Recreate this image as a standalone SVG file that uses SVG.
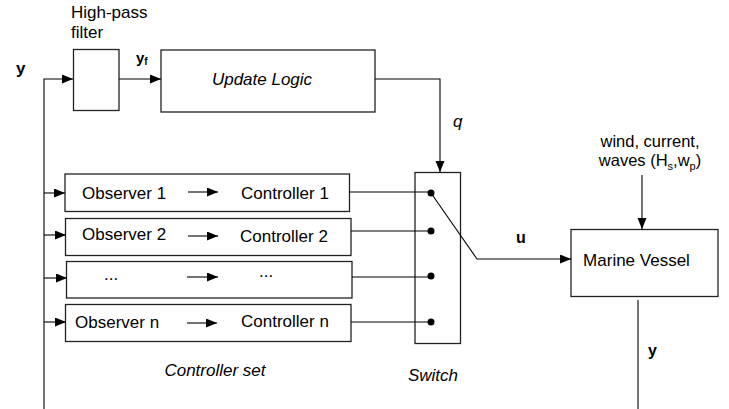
<svg xmlns="http://www.w3.org/2000/svg" width="729" height="409" viewBox="0 0 729 409">
<style>
text{font-family:"Liberation Sans",Arial,sans-serif;font-size:17px;fill:#000}
.it{font-style:italic}
.b{font-weight:bold}
.box{fill:#fff;stroke:#222;stroke-width:1.3}
.ln{fill:none;stroke:#000;stroke-width:1.1}
.arr{marker-end:url(#ah)}
</style>
<defs>
<marker id="ah" markerUnits="userSpaceOnUse" markerWidth="12" markerHeight="10" refX="11" refY="4.5" orient="auto">
<path d="M0,0 L11,4.5 L0,9 z" fill="#000"/>
</marker>
</defs>
<rect width="729" height="409" fill="#fff"/>

<g id="labels">
<text x="71" y="18">High-pass</text>
<text x="71" y="38">filter</text>
<text class="b" x="16" y="74" font-size="16">y</text>
<text class="b" x="136" y="63" style="font-size:15px">y<tspan style="font-size:10px" dy="2">f</tspan></text>
<text class="it" x="453" y="127">q</text>
<text class="b" x="516" y="243" style="font-size:16px">u</text>
<text class="b" x="648" y="356" style="font-size:16px">y</text>
<text x="650" y="147" text-anchor="middle" style="font-size:16.5px">wind, current,</text>
<text x="650" y="166" text-anchor="middle" style="font-size:16.5px">waves (H<tspan style="font-size:11px" dy="4">s</tspan><tspan dy="-4">,w</tspan><tspan style="font-size:11px" dy="4">p</tspan><tspan dy="-4">)</tspan></text>
<text class="it" x="215" y="376" text-anchor="middle">Controller set</text>
<text class="it" x="433" y="381" text-anchor="middle">Switch</text>
</g>

<g id="filter"><rect class="box" x="73.5" y="49.5" width="45.5" height="61"/></g>
<g id="update-logic">
<rect class="box" x="161" y="50" width="214" height="62"/>
<text class="it" x="262" y="85" text-anchor="middle">Update Logic</text>
</g>

<g id="row1">
<rect class="box" x="65" y="174" width="284.5" height="37.5"/>
<text x="82" y="199">Observer 1</text>
<path class="ln arr" d="M188,192 H218"/>
<text x="241" y="199">Controller 1</text>
</g>
<g id="row2">
<rect class="box" x="65.5" y="218.5" width="285.5" height="37"/>
<text x="82" y="240">Observer 2</text>
<path class="ln arr" d="M188,236 H218"/>
<text x="240" y="241.5">Controller 2</text>
</g>
<g id="row3">
<rect class="box" x="66.5" y="261.5" width="285.5" height="36.5"/>
<text x="104" y="280">...</text>
<path class="ln arr" d="M187,277 H218"/>
<text x="259" y="277">...</text>
</g>
<g id="rown">
<rect class="box" x="65.5" y="304.5" width="285.5" height="37"/>
<text x="75" y="328">Observer n</text>
<path class="ln arr" d="M187,323 H217"/>
<text x="241" y="327">Controller n</text>
</g>

<g id="switch">
<rect class="box" x="415" y="172.5" width="45.5" height="171"/>
<circle cx="431" cy="193" r="3.5" fill="#000"/>
<circle cx="431" cy="231" r="3.5" fill="#000"/>
<circle cx="431" cy="276" r="3.5" fill="#000"/>
<circle cx="431" cy="322" r="3.5" fill="#000"/>
</g>

<g id="marine-vessel">
<rect class="box" x="571" y="229.5" width="147" height="67"/>
<text x="636.5" y="266" text-anchor="middle">Marine Vessel</text>
</g>

<g id="connectors">
<path class="ln arr" d="M44,409 V79 H73"/>
<path class="ln arr" d="M119,79 H161"/>
<path class="ln arr" d="M375,79 H440 V172"/>
<path class="ln arr" d="M44,193 H65"/>
<path class="ln arr" d="M44,235 H66"/>
<path class="ln arr" d="M44,278 H67"/>
<path class="ln arr" d="M44,322 H66"/>
<path class="ln" d="M349,192 H431"/>
<path class="ln" d="M351,231 H431"/>
<path class="ln" d="M352,277 H431"/>
<path class="ln" d="M351,322 H431"/>
<path class="ln arr" d="M431,193 L477,259 H571"/>
<path class="ln arr" d="M642,175 V229"/>
<path class="ln" d="M638,300 V409"/>
</g>
</svg>
